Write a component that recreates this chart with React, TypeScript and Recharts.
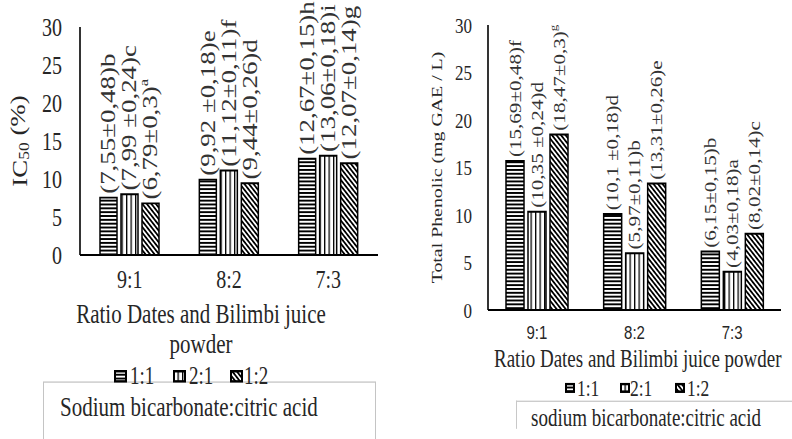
import React from "react";
import { BarChart, Bar, XAxis, YAxis, LabelList } from "recharts";

// the source figure is stretched vertically, so everything is laid out flat and scaled
const STRETCH = 1.28;

const ratios = ["9:1", "8:2", "7:3"];
const yTicks = [0, 5, 10, 15, 20, 25, 30];

// IC50 (%)
const ic50One = [7.55, 9.92, 12.67];
const ic50Two = [7.99, 11.12, 13.06];
const ic50Half = [6.79, 9.44, 12.07];
const ic50OneLbl = ["(7,55±0,48)b", "(9,92 ±0,18)e", "(12,67±0,15)h"];
const ic50TwoLbl = ["(7,99 ±0,24)c", "(11,12±0,11)f", "(13,06±0,18)i"];
const ic50HalfLbl = ["(6,79±0,3)^a", "(9,44±0,26)d", "(12,07±0,14)g"];

// Total phenolic (mg GAE / L)
const phenOne = [15.69, 10.1, 6.15];
const phenTwo = [10.35, 5.97, 4.03];
const phenHalf = [18.47, 13.31, 8.02];
const phenOneLbl = ["(15,69±0,48)f", "(10,1 ±0,18)d", "(6,15±0,15)b"];
const phenTwoLbl = ["(10,35 ±0,24)d", "(5,97±0,11)b", "(4,03±0,18)a"];
const phenHalfLbl = ["(18,47±0,3)^g", "(13,31±0,26)e", "(8,02±0,14)c"];

const legendNames = ["1:1", "2:1", "1:2"];

const SERIF = "'Liberation Serif', 'Times New Roman', serif";
const SANS = "'Liberation Sans', Arial, sans-serif";
const INK = "#262626";

const ic50Data = ratios.map((r, i) => ({
  ratio: r,
  one: ic50One[i],
  two: ic50Two[i],
  half: ic50Half[i],
  oneLbl: ic50OneLbl[i],
  twoLbl: ic50TwoLbl[i],
  halfLbl: ic50HalfLbl[i],
}));

const phenData = ratios.map((r, i) => ({
  ratio: r,
  one: phenOne[i],
  two: phenTwo[i],
  half: phenHalf[i],
  oneLbl: phenOneLbl[i],
  twoLbl: phenTwoLbl[i],
  halfLbl: phenHalfLbl[i],
}));

const fills = ["url(#pat-hz)", "url(#pat-vt)", "url(#pat-dg)"];

// rotated value label sitting on top of a bar, "^x" marks a superscript
function UpLabel(props: any) {
  const { x, y, width, value, fs } = props;
  const [main, sup] = String(value).split("^");
  const cx = Number(x) + Number(width) / 2;
  return (
    <text
      transform={`translate(${cx},${Number(y) - 3}) rotate(-90)`}
      fontSize={fs}
      fontFamily={SERIF}
      fill="#333"
      dominantBaseline="central"
    >
      {main}
      {sup && (
        <tspan fontSize="0.62em" dy="-0.5em">
          {sup}
        </tspan>
      )}
    </text>
  );
}

function IcTitle(props: any) {
  const { viewBox } = props;
  const cy = viewBox.y + viewBox.height / 2;
  return (
    <text
      transform={`translate(${viewBox.x + 20},${cy}) rotate(-90)`}
      textAnchor="middle"
      dominantBaseline="central"
      fontSize={21}
      fontFamily={SERIF}
      fill={INK}
    >
      IC
      <tspan fontSize="0.65em" dy="0.3em">
        50
      </tspan>
      <tspan dy="-0.3em"> (%)</tspan>
    </text>
  );
}

function PhenTitle(props: any) {
  const { viewBox } = props;
  const cy = viewBox.y + viewBox.height / 2;
  return (
    <text
      transform={`translate(${viewBox.x + 37},${cy}) rotate(-90)`}
      textAnchor="middle"
      dominantBaseline="central"
      fontSize={15.5}
      fontFamily={SERIF}
      fill={INK}
    >
      Total Phenolic (mg GAE / L)
    </text>
  );
}

function Swatch({ fill, w, h }: { fill: string; w: number; h: number }) {
  return (
    <svg width={w} height={h} style={{ display: "block" }}>
      <rect x={1} y={1} width={w - 2} height={h - 2} fill={fill} stroke="#000" strokeWidth={2} />
    </svg>
  );
}

function LegendRow({ cy, items, fs, sw, sh }: any) {
  return (
    <>
      {items.map((it: any, i: number) => (
        <React.Fragment key={i}>
          <div style={{ position: "absolute", left: it.sx, top: cy - sh / 2 }}>
            <Swatch fill={fills[i]} w={sw} h={sh} />
          </div>
          <div
            style={{
              position: "absolute",
              left: it.tx,
              top: cy - 12,
              lineHeight: "24px",
              fontSize: fs,
              fontFamily: SERIF,
              color: INK,
              whiteSpace: "nowrap",
            }}
          >
            {legendNames[i]}
          </div>
        </React.Fragment>
      ))}
    </>
  );
}

export default function App() {
  return (
    <div
      style={{
        position: "absolute",
        left: 0,
        top: 0,
        width: 792,
        height: 439,
        overflow: "hidden",
        background: "#fff",
      }}
    >
      <svg width={0} height={0} style={{ position: "absolute" }}>
        <defs>
          <pattern id="pat-hz" patternUnits="userSpaceOnUse" width={4} height={3}>
            <rect width={4} height={3} fill="#fff" />
            <rect width={4} height={1.5} fill="#000" />
          </pattern>
          <pattern id="pat-vt" patternUnits="userSpaceOnUse" width={4.5} height={4}>
            <rect width={4.5} height={4} fill="#fff" />
            <rect width={1.3} height={4} fill="#000" />
          </pattern>
          <pattern
            id="pat-dg"
            patternUnits="userSpaceOnUse"
            width={3.2}
            height={3.2}
            patternTransform="rotate(-45)"
          >
            <rect width={3.2} height={3.2} fill="#fff" />
            <rect width={1.6} height={3.2} fill="#000" />
          </pattern>
        </defs>
      </svg>

      <div
        style={{
          position: "absolute",
          left: 0,
          top: 0,
          width: 792,
          height: 343,
          transform: `scaleY(${STRETCH})`,
          transformOrigin: "0 0",
        }}
      >
        {/* left: IC50 */}
        <div style={{ position: "absolute", left: 0, top: 0 }}>
          <BarChart
            width={400}
            height={240}
            data={ic50Data}
            margin={{ top: 21.1, right: 22, bottom: 0.8, left: 0 }}
            barSize={17}
            barGap={4}
          >
            <XAxis
              dataKey="ratio"
              height={40}
              axisLine={{ stroke: "#000", strokeWidth: 1.6 }}
              tickLine={false}
              tickSize={0}
              tickMargin={12}
              tick={{ fill: INK, fontSize: 20, fontFamily: SERIF }}
            />
            <YAxis
              width={80}
              domain={[0, 30]}
              ticks={yTicks}
              interval={0}
              axisLine={{ stroke: "#000", strokeWidth: 1.6 }}
              tickLine={false}
              tickSize={0}
              tickMargin={18}
              tick={{ fill: INK, fontSize: 20, fontFamily: SERIF }}
              label={<IcTitle />}
            />
            <Bar dataKey="one" fill={fills[0]} stroke="#000" strokeWidth={1.5} isAnimationActive={false}>
              <LabelList dataKey="oneLbl" content={<UpLabel fs={21} />} />
            </Bar>
            <Bar dataKey="two" fill={fills[1]} stroke="#000" strokeWidth={1.5} isAnimationActive={false}>
              <LabelList dataKey="twoLbl" content={<UpLabel fs={21} />} />
            </Bar>
            <Bar dataKey="half" fill={fills[2]} stroke="#000" strokeWidth={1.5} isAnimationActive={false}>
              <LabelList dataKey="halfLbl" content={<UpLabel fs={21} />} />
            </Bar>
          </BarChart>
        </div>

        <div
          style={{
            position: "absolute",
            left: 0,
            width: 402,
            top: 232.5,
            textAlign: "center",
            fontSize: 21,
            lineHeight: "24.3px",
            fontFamily: SERIF,
            color: INK,
          }}
        >
          Ratio Dates and Bilimbi juice
          <br />
          powder
        </div>

        <div
          style={{
            position: "absolute",
            left: 43,
            top: 298.4,
            width: 331,
            height: 80,
            border: "1px solid #c4c4c4",
          }}
        />
        <div
          style={{
            position: "absolute",
            left: 60,
            top: 318 - 12,
            lineHeight: "24px",
            fontSize: 21,
            fontFamily: SERIF,
            color: INK,
            whiteSpace: "nowrap",
          }}
        >
          Sodium bicarbonate:citric acid
        </div>

        <LegendRow
          cy={293.5}
          fs={19}
          sw={13}
          sh={10}
          items={[
            { sx: 114, tx: 130 },
            { sx: 173, tx: 189 },
            { sx: 230, tx: 244 },
          ]}
        />

        {/* right: total phenolic */}
        <div style={{ position: "absolute", left: 400, top: 0 }}>
          <BarChart
            width={392}
            height={275}
            data={phenData}
            margin={{ top: 19.5, right: 11, bottom: 0.8, left: 0 }}
            barSize={18}
            barGap={4}
          >
            <XAxis
              dataKey="ratio"
              height={32}
              axisLine={{ stroke: "#000", strokeWidth: 1.6 }}
              tickLine={false}
              tickSize={0}
              tickMargin={12}
              tick={{ fill: INK, fontSize: 15, fontFamily: SANS }}
            />
            <YAxis
              width={88}
              domain={[0, 30]}
              ticks={yTicks}
              interval={0}
              axisLine={{ stroke: "#000", strokeWidth: 1.6 }}
              tickLine={false}
              tickSize={0}
              tickMargin={16}
              tick={{ fill: INK, fontSize: 17, fontFamily: SERIF }}
              label={<PhenTitle />}
            />
            <Bar dataKey="one" fill={fills[0]} stroke="#000" strokeWidth={1.5} isAnimationActive={false}>
              <LabelList dataKey="oneLbl" content={<UpLabel fs={16.5} />} />
            </Bar>
            <Bar dataKey="two" fill={fills[1]} stroke="#000" strokeWidth={1.5} isAnimationActive={false}>
              <LabelList dataKey="twoLbl" content={<UpLabel fs={16.5} />} />
            </Bar>
            <Bar dataKey="half" fill={fills[2]} stroke="#000" strokeWidth={1.5} isAnimationActive={false}>
              <LabelList dataKey="halfLbl" content={<UpLabel fs={16.5} />} />
            </Bar>
          </BarChart>
        </div>

        <div
          style={{
            position: "absolute",
            left: 494,
            width: 286,
            top: 281.3 - 12,
            lineHeight: "24px",
            textAlign: "center",
            fontSize: 19,
            fontFamily: SERIF,
            color: INK,
            whiteSpace: "nowrap",
          }}
        >
          Ratio Dates and Bilimbi juice powder
        </div>

        <div
          style={{
            position: "absolute",
            left: 516,
            top: 312.5,
            width: 300,
            height: 21,
            borderTop: "1px solid #c8c8c8",
            borderLeft: "1px solid #c8c8c8",
          }}
        />
        <div
          style={{
            position: "absolute",
            left: 531,
            top: 326.6 - 12,
            lineHeight: "24px",
            fontSize: 19,
            fontFamily: SERIF,
            color: INK,
            whiteSpace: "nowrap",
          }}
        >
          sodium bicarbonate:citric acid
        </div>

        <LegendRow
          cy={302.5}
          fs={17.5}
          sw={10}
          sh={8}
          items={[
            { sx: 565, tx: 577 },
            { sx: 620, tx: 630 },
            { sx: 675, tx: 687 },
          ]}
        />
      </div>
    </div>
  );
}
